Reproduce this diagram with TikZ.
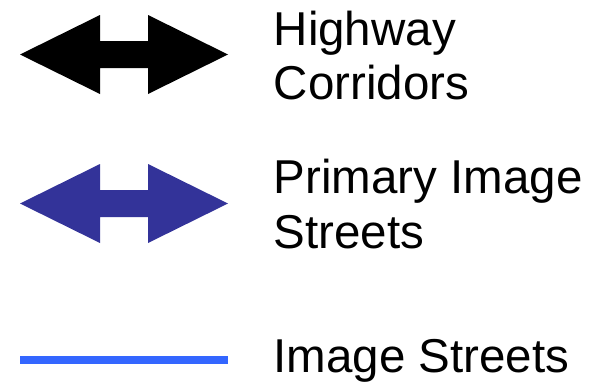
\documentclass[tikz,border=0pt]{standalone}
\usepackage{fontspec}
\setmainfont{Liberation Sans}
\definecolor{primaryblue}{HTML}{333399}
\definecolor{imageblue}{HTML}{3366FF}
\tikzset{
  legendtext/.style={anchor=base west, inner sep=0pt, font=\fontsize{47.5}{55}\selectfont},
  dblarrow/.style={draw=none}
}
\newcommand{\legendarrow}[3]{% #1 center y, #2 colour, #3 unused
  \fill[#2] (20,#1) -- (100,#1-39.5) -- (100,#1-13.5) -- (148,#1-13.5) -- (148,#1-39.5)
    -- (228,#1) -- (148,#1+39.5) -- (148,#1+13.5) -- (100,#1+13.5) -- (100,#1+39.5) -- cycle;}
\begin{document}
\begin{tikzpicture}[x=1pt,y=-1pt]
\useasboundingbox (0,0) rectangle (596,391);
% highway corridors
\legendarrow{54.5}{black}{}
% primary image streets
\legendarrow{203.5}{primaryblue}{}
% image streets
\coordinate (ls) at (20,360);
\coordinate (le) at (228,360);
\draw[imageblue, line width=8pt] (ls) -- (le);
% labels
\node[legendtext] (t1) at (273.5,45) {Highway};
\node[legendtext] (t2) at (273.5,99.5) {Corridors};
\node[legendtext] (t3) at (273.5,193) {Primary Image};
\node[legendtext] (t4) at (273.5,248.5) {Streets};
\node[legendtext] (t5) at (273.5,372) {Image Streets};
\end{tikzpicture}
\end{document}
